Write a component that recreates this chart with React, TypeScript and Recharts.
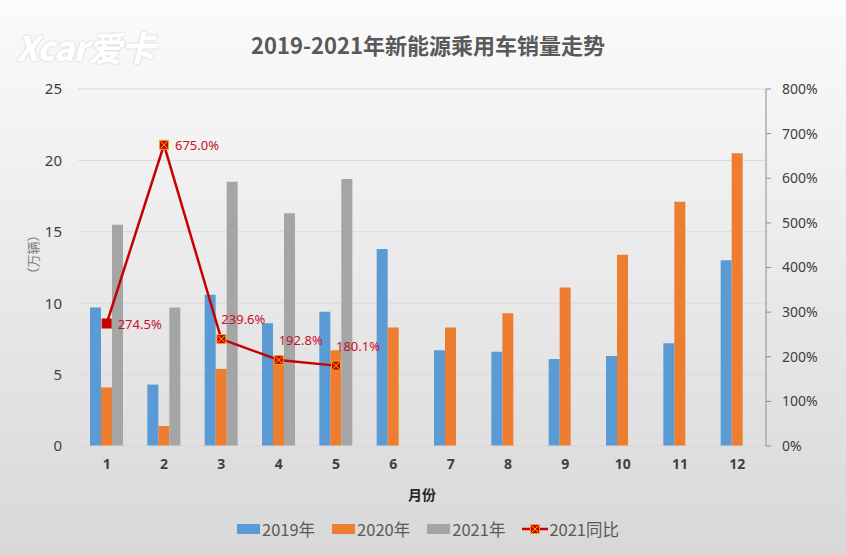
import React from "react";
import {
  ComposedChart,
  Bar,
  Line,
  XAxis,
  YAxis,
  CartesianGrid,
  Legend,
  Label,
} from "recharts";

// 月份
const months = ["1", "2", "3", "4", "5", "6", "7", "8", "9", "10", "11", "12"];
// 销量（万辆）
const sales2019 = [9.7, 4.3, 10.6, 8.6, 9.4, 13.8, 6.7, 6.6, 6.1, 6.3, 7.2, 13.0];
const sales2020 = [4.1, 1.4, 5.4, 6.2, 6.7, 8.3, 8.3, 9.3, 11.1, 13.4, 17.1, 20.5];
const sales2021 = [15.5, 9.7, 18.5, 16.3, 18.7];
// 2021 同比 (%)
const yoy2021 = [274.5, 675.0, 239.6, 192.8, 180.1];

const leftTicks = [0, 5, 10, 15, 20, 25];
const rightTicks = [0, 100, 200, 300, 400, 500, 600, 700, 800];

const seriesNames = ["2019年", "2020年", "2021年", "2021同比"];

const data = months.map((m, i) => ({
  month: m,
  y2019: sales2019[i],
  y2020: sales2020[i],
  y2021: sales2021[i] ?? null,
  yoy: yoy2021[i] ?? null,
}));

const FONT = "'Noto Sans', 'Noto Sans CJK SC', sans-serif";
const CJK = "'Noto Sans CJK SC', 'Noto Sans', sans-serif";

const C2019 = "#5B9BD5";
const C2020 = "#ED7D31";
const C2021 = "#A5A5A5";
const CLINE = "#C80000";

const renderDot = (props: any) => {
  const { cx, cy, index } = props;
  if (cx == null || cy == null || props.value == null) return <g key={`d${index}`} />;
  return (
    <g key={`d${index}`}>
      <rect
        x={cx - 4.5}
        y={cy - 4.5}
        width={9}
        height={9}
        fill={CLINE}
        stroke={index === 0 ? CLINE : "#F0A030"}
        strokeWidth={1}
      />
      {index !== 0 && (
        <path
          d={`M${cx - 3.5},${cy - 3.5}L${cx + 3.5},${cy + 3.5}M${cx + 3.5},${cy - 3.5}L${cx - 3.5},${cy + 3.5}`}
          stroke="#FFC000"
          strokeWidth={1}
        />
      )}
    </g>
  );
};

const renderYoyLabel = (props: any) => {
  const { x, y, value, index } = props;
  if (value == null) return null;
  // 前两个点标签在右侧，其余在上方
  const lx = index < 2 ? x + 11 : x;
  const ly = index < 2 ? y : y - 20;
  return (
    <text
      x={lx}
      y={ly}
      fill="#C8102E"
      fontSize={13}
      fontFamily={FONT}
      dominantBaseline="central"
    >
      {`${Number(value).toFixed(1)}%`}
    </text>
  );
};

const LegendContent = () => {
  const colors = [C2019, C2020, C2021];
  return (
    <div
      style={{
        display: "flex",
        justifyContent: "center",
        alignItems: "center",
        gap: 17,
        fontFamily: CJK,
        fontSize: 16.5,
        color: "#595959",
      }}
    >
      {colors.map((c, i) => (
        <div key={i} style={{ display: "flex", alignItems: "center" }}>
          <svg width={23} height={10} style={{ marginRight: 2 }}>
            <rect width={23} height={10} fill={c} />
          </svg>
          <span>{seriesNames[i]}</span>
        </div>
      ))}
      <div style={{ display: "flex", alignItems: "center" }}>
        <svg width={26} height={12} style={{ marginRight: 1 }}>
          <line x1={0} y1={6} x2={26} y2={6} stroke={CLINE} strokeWidth={2.5} />
          <rect x={8.5} y={1.5} width={9} height={9} fill={CLINE} stroke="#F0A030" />
          <path d="M9.5,2.5L16.5,9.5M16.5,2.5L9.5,9.5" stroke="#FFC000" strokeWidth={1} />
        </svg>
        <span>{seriesNames[3]}</span>
      </div>
    </div>
  );
};

export default function App() {
  return (
    <div
      style={{
        position: "absolute",
        left: 0,
        top: 0,
        width: 846,
        height: 555,
        background: "linear-gradient(#fbfbfb, #d8d8d8)",
        overflow: "hidden",
      }}
    >
      {/* logo 水印 */}
      <div
        style={{
          position: "absolute",
          left: 16,
          top: 22,
          fontFamily: CJK,
          fontSize: 34,
          fontWeight: 900,
          fontStyle: "italic",
          color: "#ffffff",
          textShadow: "0 0 2px #bdbdbd",
          letterSpacing: -1,
        }}
      >
        Xcar爱卡
      </div>
      <div
        style={{
          position: "absolute",
          left: 0,
          top: 28,
          width: 856,
          textAlign: "center",
          fontFamily: CJK,
          fontSize: 22,
          fontWeight: 700,
          color: "#595959",
        }}
      >
        2019-2021年新能源乘用车销量走势
      </div>
      <ComposedChart
        width={846}
        height={555}
        data={data}
        margin={{ top: 89, right: 0, bottom: 49, left: 0 }}
        barGap={0}
        barSize={11}
        style={{ position: "absolute", left: 0, top: 0 }}
      >
        <CartesianGrid vertical={false} stroke="#d9d9d9" yAxisId="left" />
        <XAxis
          dataKey="month"
          height={60}
          axisLine={{ stroke: "#d9d9d9" }}
          tickLine={false}
          tickSize={0}
          tickMargin={13}
          tick={{ fill: "#404040", fontSize: 14, fontWeight: 700, fontFamily: FONT }}
        >
          <Label
            value="月份"
            position="insideBottom"
            offset={6}
            style={{ fill: "#262626", fontSize: 14, fontWeight: 700, fontFamily: CJK }}
          />
        </XAxis>
        <YAxis
          yAxisId="left"
          width={78}
          domain={[0, 25]}
          ticks={leftTicks}
          axisLine={false}
          tickLine={false}
          tickSize={0}
          tickMargin={16}
          tick={{ fill: "#404040", fontSize: 15, fontFamily: FONT }}
        >
          <Label
            content={(p: any) => {
              const vb = p.viewBox;
              const cx = 32;
              const cy = vb.y + vb.height / 2 - 13;
              return (
                <text
                  x={cx}
                  y={cy}
                  transform={`rotate(-90 ${cx} ${cy})`}
                  textAnchor="middle"
                  dominantBaseline="central"
                  fill="#7f7f7f"
                  fontSize={13}
                  fontFamily={CJK}
                >
                  （万辆）
                </text>
              );
            }}
          />
        </YAxis>
        <YAxis
          yAxisId="right"
          orientation="right"
          width={80}
          domain={[0, 800]}
          ticks={rightTicks}
          tickFormatter={(v: number) => `${v}%`}
          axisLine={{ stroke: "#8c8c8c" }}
          tickLine={{ stroke: "#8c8c8c" }}
          tickSize={5}
          tickMargin={11}
          tick={{ fill: "#404040", fontSize: 14, fontFamily: FONT }}
        />
        <Bar yAxisId="left" dataKey="y2019" name={seriesNames[0]} fill={C2019} isAnimationActive={false} />
        <Bar yAxisId="left" dataKey="y2020" name={seriesNames[1]} fill={C2020} isAnimationActive={false} />
        <Bar yAxisId="left" dataKey="y2021" name={seriesNames[2]} fill={C2021} isAnimationActive={false} />
        <Line
          yAxisId="right"
          dataKey="yoy"
          name={seriesNames[3]}
          type="linear"
          stroke={CLINE}
          strokeWidth={2.5}
          dot={renderDot}
          activeDot={false}
          label={renderYoyLabel}
          connectNulls={false}
          isAnimationActive={false}
        />
        <Legend
          verticalAlign="middle"
          align="center"
          content={<LegendContent />}
          wrapperStyle={{ top: 517, left: 0, width: 856 }}
        />
      </ComposedChart>
    </div>
  );
}
